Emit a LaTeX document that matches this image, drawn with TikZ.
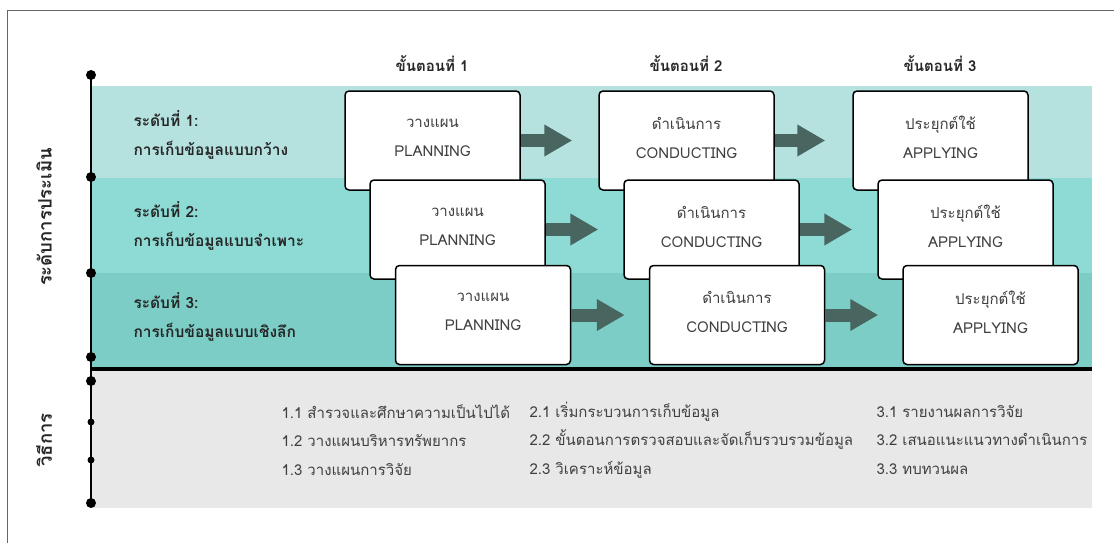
\documentclass[tikz,border=0pt]{standalone}
\usepackage{fontspec}
\setmainfont[Script=Thai]{Loma}
\usetikzlibrary{arrows.meta}
\definecolor{bandA}{HTML}{B5E2DF}
\definecolor{bandB}{HTML}{8EDAD4}
\definecolor{bandC}{HTML}{7CCDC6}
\definecolor{greyband}{HTML}{E8E8E8}
\definecolor{arrowc}{HTML}{48655F}
\definecolor{txt}{HTML}{3F3F3F}
\tikzset{
  stagebox/.style={draw=black, line width=1.5pt, fill=white, rounded corners=4pt,
    minimum width=175pt, minimum height=99pt, inner sep=0pt, align=center,
    text depth=6pt,
    font=\fontsize{15}{29}\selectfont, text=txt},
  blockarrow/.style={draw=arrowc, line width=13pt,
    -{Triangle[length=28pt, width=30pt]}},
  bigdot/.style={circle, fill=black, inner sep=0pt, minimum size=10pt},
  smalldot/.style={circle, fill=black, inner sep=0pt, minimum size=7pt},
  levellabel/.style={anchor=west, align=left, font=\bfseries\fontsize{15.5}{29}\selectfont, text=black!85},
  stagehead/.style={font=\bfseries\fontsize{15}{16}\selectfont, text=black!85},
  sidelabel/.style={rotate=90, font=\bfseries\fontsize{18.5}{20}\selectfont, text=black!85},
  methodtext/.style={anchor=west, align=left, font=\fontsize{15}{28.5}\selectfont, text=black!75},
}
\begin{document}
\begin{tikzpicture}[x=1pt, y=-1pt]
\useasboundingbox (0,0) rectangle (1114,543);
% frame
\draw[black!60, line width=1pt] (7,543) -- (7,11) -- (1114,11);
% bands
\fill[bandA] (91,86) rectangle (1092,178);
\fill[bandB] (91,178) rectangle (1092,273);
\fill[bandC] (91,273) rectangle (1092,368);
\fill[greyband] (91,369) rectangle (1092,508);
% axis
\draw[line width=2.5pt] (91,75) -- (91,503);
\draw[line width=4.5pt] (91,369) -- (1092,369);
\foreach \yy/\nm in {75/d1,177/d2,273/d3,357/d4,381/d5,503/d8}
  \node[bigdot] (\nm) at (91,\yy) {};
\node[smalldot] (d6) at (91,422) {};
\node[smalldot] (d7) at (91,460) {};
% side labels
\node[sidelabel] (lvl) at (44,217) {ระดับการประเมิน};
\node[sidelabel] (meth) at (44,440) {วิธีการ};
% stage headings
\node[stagehead] (h1) at (432,64) {ขั้นตอนที่ 1};
\node[stagehead] (h2) at (686,64) {ขั้นตอนที่ 2};
\node[stagehead] (h3) at (940,64) {ขั้นตอนที่ 3};
% level labels
\node[levellabel] (l1) at (130,135) {ระดับที่ 1:\\การเก็บข้อมูลแบบกว้าง};
\node[levellabel] (l2) at (130,226) {ระดับที่ 2:\\การเก็บข้อมูลแบบจำเพาะ};
\node[levellabel] (l3) at (130,317) {ระดับที่ 3:\\การเก็บข้อมูลแบบเชิงลึก};
% row 1
\node[stagebox] (p1) at (432.5,140.5) {วางแผน\\PLANNING};
\node[stagebox] (c1) at (686.5,140.5) {ดำเนินการ\\CONDUCTING};
\node[stagebox] (a1) at (940.5,140.5) {ประยุกต์ใช้\\APPLYING};
\draw[blockarrow] (p1.east) -- ([xshift=-26pt]c1.west);
\draw[blockarrow] (c1.east) -- ([xshift=-27pt]a1.west);
% row 2
\node[stagebox] (p2) at (457.5,229.5) {วางแผน\\PLANNING};
\node[stagebox] (c2) at (711.5,229.5) {ดำเนินการ\\CONDUCTING};
\node[stagebox] (a2) at (965.5,229.5) {ประยุกต์ใช้\\APPLYING};
\draw[blockarrow] (p2.east) -- ([xshift=-25pt]c2.west);
\draw[blockarrow] (c2.east) -- ([xshift=-25pt]a2.west);
% row 3
\node[stagebox] (p3) at (483,315) {วางแผน\\PLANNING};
\node[stagebox] (c3) at (737,315) {ดำเนินการ\\CONDUCTING};
\node[stagebox] (a3) at (990.5,315) {ประยุกต์ใช้\\APPLYING};
\draw[blockarrow] (p3.east) -- ([xshift=-24pt]c3.west);
\draw[blockarrow] (c3.east) -- ([xshift=-24pt]a3.west);
% methods
\node[methodtext] (m1) at (278,440) {1.1 สำรวจและศึกษาความเป็นไปได้\\1.2 วางแผนบริหารทรัพยากร\\1.3 วางแผนการวิจัย};
\node[methodtext] (m2) at (526,440) {2.1 เริ่มกระบวนการเก็บข้อมูล\\2.2 ขั้นตอนการตรวจสอบและจัดเก็บรวบรวมข้อมูล\\2.3 วิเคราะห์ข้อมูล};
\node[methodtext] (m3) at (873,440) {3.1 รายงานผลการวิจัย\\3.2 เสนอแนะแนวทางดำเนินการ\\3.3 ทบทวนผล};
\end{tikzpicture}
\end{document}
